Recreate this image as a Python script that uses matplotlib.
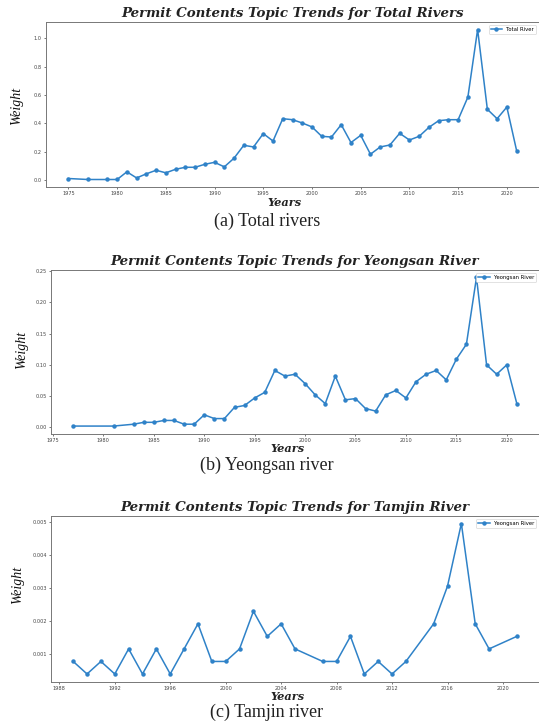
import matplotlib
matplotlib.use("Agg")
import matplotlib.pyplot as plt
from matplotlib.ticker import MultipleLocator

# ---------------- data ----------------
years_total = [1975, 1977, 1979, 1980, 1981, 1982, 1983, 1984, 1985, 1986, 1987, 1988,
               1989, 1990, 1991, 1992, 1993, 1994, 1995, 1996, 1997, 1998, 1999, 2000,
               2001, 2002, 2003, 2004, 2005, 2006, 2007, 2008, 2009, 2010, 2011, 2012,
               2013, 2014, 2015, 2016, 2017, 2018, 2019, 2020, 2021]
weight_total = [0.012, 0.005, 0.005, 0.005, 0.059, 0.016, 0.045, 0.070, 0.052, 0.077,
                0.091, 0.091, 0.112, 0.126, 0.094, 0.155, 0.246, 0.234, 0.328, 0.276,
                0.433, 0.426, 0.403, 0.375, 0.309, 0.304, 0.391, 0.265, 0.316, 0.183,
                0.234, 0.248, 0.330, 0.283, 0.309, 0.372, 0.419, 0.426, 0.426, 0.585,
                1.061, 0.499, 0.433, 0.515, 0.209]

years_yeongsan = [1977, 1981, 1983, 1984, 1985, 1986, 1987, 1988, 1989, 1990, 1991, 1992,
                  1993, 1994, 1995, 1996, 1997, 1998, 1999, 2000, 2001, 2002, 2003, 2004,
                  2005, 2006, 2007, 2008, 2009, 2010, 2011, 2012, 2013, 2014, 2015, 2016,
                  2017, 2018, 2019, 2020, 2021]
weight_yeongsan = [0.002, 0.002, 0.005, 0.008, 0.008, 0.011, 0.011, 0.005, 0.005, 0.020,
                   0.014, 0.014, 0.032, 0.035, 0.047, 0.056, 0.091, 0.082, 0.085, 0.070,
                   0.052, 0.038, 0.082, 0.044, 0.046, 0.030, 0.026, 0.052, 0.059, 0.047,
                   0.073, 0.085, 0.091, 0.076, 0.109, 0.133, 0.240, 0.100, 0.085, 0.100,
                   0.038]

years_tamjin = [1989, 1990, 1991, 1992, 1993, 1994, 1995, 1996, 1997, 1998, 1999, 2000,
                2001, 2002, 2003, 2004, 2005, 2007, 2008, 2009, 2010, 2011, 2012, 2013,
                2015, 2016, 2017, 2018, 2019, 2021]
weight_tamjin = [0.00076, 0.00038, 0.00076, 0.00038, 0.00114, 0.00038, 0.00114, 0.00038,
                 0.00114, 0.00190, 0.00076, 0.00076, 0.00114, 0.00228, 0.00152, 0.00190,
                 0.00114, 0.00076, 0.00076, 0.00152, 0.00038, 0.00076, 0.00038, 0.00076,
                 0.00190, 0.00304, 0.00494, 0.00190, 0.00114, 0.00152]

titles = ["Permit Contents Topic Trends for Total Rivers",
          "Permit Contents Topic Trends for Yeongsan River",
          "Permit Contents Topic Trends for Tamjin River"]
legend_labels = ["Total River", "Yeongsan River", "Yeongsan River"]
captions = ["(a) Total rivers", "(b) Yeongsan river", "(c) Tamjin river"]
xtick_steps = [5, 5, 4]

# ---------------- layout ----------------
W, H = 539, 725
fig = plt.figure(figsize=(W / 100, H / 100), dpi=100)


def fx(px):
    return px / W


def fy(py):
    return 1 - py / H


# axes boxes in pixels: left, top, right, bottom
boxes = [(46, 22, 539, 187), (51, 270, 539, 433.5), (51, 516, 539, 681.5)]
title_y = [13, 261, 508]
years_y = [202.5, 448.5, 696.5]
cap_y = [221, 465, 712]
ylab = [(17, 106), (22, 350), (18, 585)]

series = [(years_total, weight_total), (years_yeongsan, weight_yeongsan),
          (years_tamjin, weight_tamjin)]

title_font = dict(family=["DejaVu Serif"], style="italic", weight="bold")
color = "#2f82c8"

for i, ((l, t, r, b), (xs, ys)) in enumerate(zip(boxes, series)):
    ax = fig.add_axes([fx(l), fy(b), fx(r) - fx(l), (b - t) / H])
    ax.plot(xs, ys, color=color, lw=1.1, marker="o", ms=2.2, label=legend_labels[i])
    ax.tick_params(labelsize=3.6, length=1.5, width=0.5, pad=1.5, colors="#444444")
    ax.xaxis.set_major_locator(MultipleLocator(xtick_steps[i]))
    for s in ax.spines.values():
        s.set_linewidth(0.7)
        s.set_color("#777777")
    leg = ax.legend(loc="upper right", fontsize=3.8, frameon=True, borderpad=0.4,
                    handlelength=2.2, framealpha=1)
    leg.get_frame().set_linewidth(0.4)
    leg.get_frame().set_edgecolor("#cccccc")

    cx = (l + r) / 2
    fig.text(fx(cx), fy(title_y[i]), titles[i], ha="center", va="center",
             fontsize=9.6, color="#222222", **title_font)
    fig.text(fx(cx - 8), fy(years_y[i]), "Years", ha="center", va="center",
             fontsize=8.2, color="#222222", **title_font)
    fig.text(fx(ylab[i][0]), fy(ylab[i][1]), "Weight", ha="center", va="center",
             rotation=90, fontsize=10, color="#111111",
             family=["Liberation Serif"], style="italic")
    fig.text(fx(267), fy(cap_y[i]), captions[i], ha="center", va="center",
             fontsize=13, color="#222222", family=["Liberation Serif"])

fig.savefig("out.png", dpi=100)
